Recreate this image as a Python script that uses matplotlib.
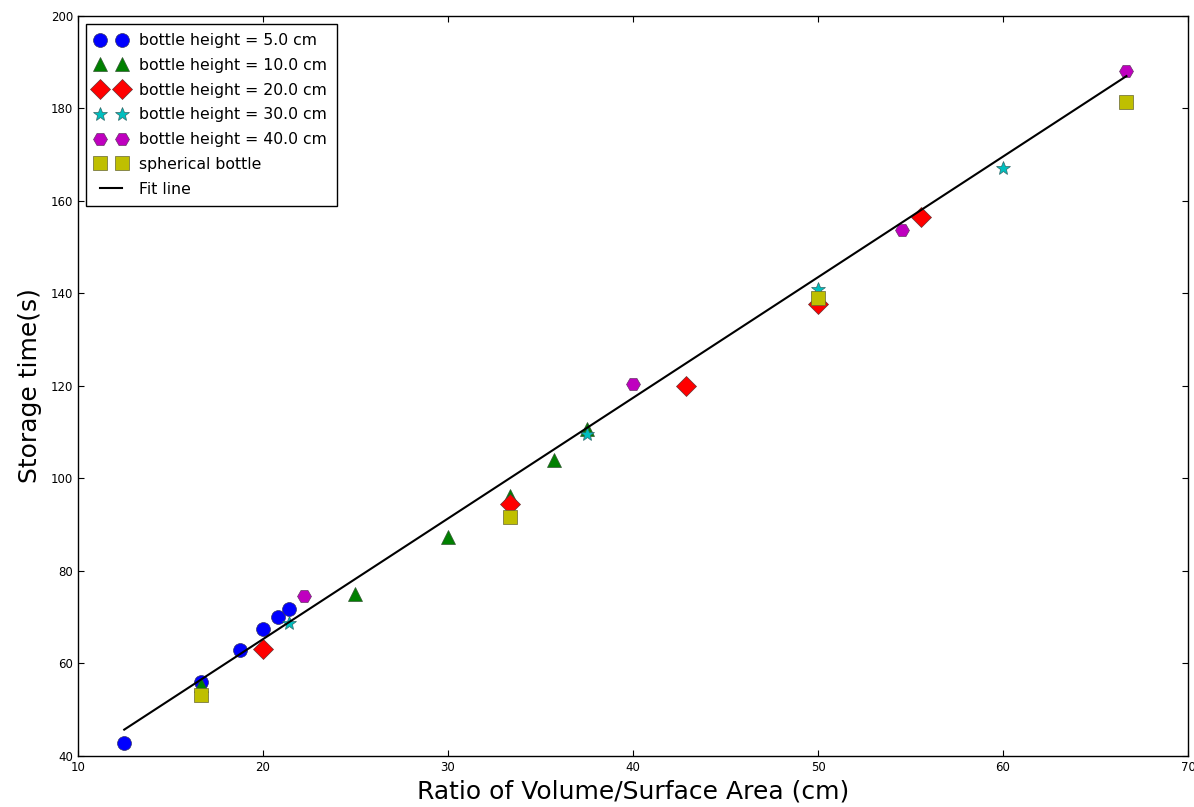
import matplotlib
matplotlib.use("Agg")
import matplotlib.pyplot as plt

# donnees
x_h5 = [12.5, 16.67, 18.75, 20.0, 20.83, 21.43]
y_h5 = [42.8, 56.0, 62.9, 67.5, 70.0, 71.8]

x_h10 = [16.67, 25.0, 30.0, 33.33, 35.71, 37.5]
y_h10 = [55.3, 75.0, 87.3, 96.2, 104.0, 110.8]

x_h20 = [20.0, 33.33, 42.86, 50.0, 55.56]
y_h20 = [63.2, 94.5, 120.1, 137.8, 156.5]

x_h30 = [21.43, 37.5, 50.0, 60.0]
y_h30 = [68.8, 109.7, 141.0, 167.2]

x_h40 = [22.22, 40.0, 54.55, 66.67]
y_h40 = [74.7, 120.5, 153.8, 188.0]

x_sph = [16.67, 33.33, 50.0, 66.67]
y_sph = [53.2, 91.6, 139.0, 181.5]

fit_x = [12.5, 66.67]
fit_y = [45.7, 187.0]

fig = plt.figure(figsize=(11.94, 8.07), dpi=100)
ax = fig.add_axes([0.0653, 0.0632, 0.9297, 0.9170])

ms = 10
ax.plot(x_h5, y_h5, 'o', color='b', ms=ms, mec='#333366', mew=0.5, label='bottle height = 5.0 cm')
ax.plot(x_h10, y_h10, '^', color=(0, 0.5, 0), ms=ms, mec='#335533', mew=0.5, label='bottle height = 10.0 cm')
ax.plot(x_h20, y_h20, 'D', color='r', ms=ms, mec='#663333', mew=0.5, label='bottle height = 20.0 cm')
ax.plot(x_h30, y_h30, '*', color=(0, 0.75, 0.75), ms=ms, mec='#336666', mew=0.5, label='bottle height = 30.0 cm')
ax.plot(x_h40, y_h40, 'H', color=(0.75, 0, 0.75), ms=ms, mec='#663366', mew=0.5, label='bottle height = 40.0 cm')
ax.plot(x_sph, y_sph, 's', color=(0.75, 0.75, 0), ms=ms, mec='#666633', mew=0.5, label='spherical bottle')
ax.plot(fit_x, fit_y, '-', color='k', lw=1.5, label='Fit line')

ax.set_xlim(10, 70)
ax.set_ylim(40, 200)
ax.set_xticks(range(10, 71, 10))
ax.set_yticks(range(40, 201, 20))
ax.tick_params(direction='in', top=True, right=True, labelsize=8.5, length=4)
for s in ax.spines.values():
    s.set_color('k')
    s.set_linewidth(1.0)

ax.set_xlabel('Ratio of Volume/Surface Area (cm)', fontsize=18)
ax.set_ylabel('Storage time(s)', fontsize=18, labelpad=6)

leg = ax.legend(loc='upper left', numpoints=2, fontsize=11.3, fancybox=False,
                framealpha=1, edgecolor='k', borderaxespad=0.5, handlelength=2.0,
                labelspacing=0.62, borderpad=0.6)
leg.get_frame().set_linewidth(1.0)

fig.savefig('out.png', dpi=100)
